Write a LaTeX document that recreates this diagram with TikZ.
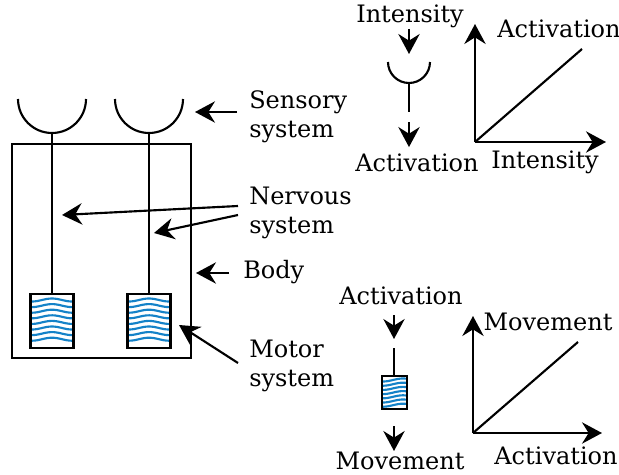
\documentclass[tikz,border=0pt]{standalone}
\usepackage{fontspec}
\setmainfont{DejaVu Serif}
\usetikzlibrary{arrows.meta}
\definecolor{wavecol}{RGB}{20,130,200}
\tikzset{
  arr/.style={-{Stealth[length=15pt,width=16pt,inset=5pt]}, line width=1.6pt},
  part/.style={line width=1.6pt},
  lbl/.style={font=\fontsize{18}{21.5}\selectfont, inner sep=0pt, align=left},
  wave/.style={wavecol, line width=1.6pt},
  mbox/.style={draw, line width=1.6pt, inner sep=0pt}
}
% blue fibres of a muscle: x1, x2, first y, step, count
\newcommand{\fibres}[5]{%
  \foreach \k in {1,...,#5}
    \draw[wave] plot[domain=#1:#2, samples=25, variable=\t]
      (\t,{#3+(\k-1)*#4+1.5*cos(9*(\t-#1))});
}
\begin{document}
\begin{tikzpicture}[x=0.75pt,y=-0.75pt]
	\useasboundingbox (0,0) rectangle (619,475);
	% Body with two sensors and two muscles
	\draw[part] (12,144) rectangle (191,358);
	\draw[part] (18,99) arc[start angle=180, end angle=0, radius=34];
	\draw[part] (115,99) arc[start angle=180, end angle=0, radius=34];
	\coordinate (c1) at (52,133);
	\coordinate (c2) at (149,133);
	\fibres{32}{73}{300}{5.6}{8}
	\fibres{129}{170}{300}{5.6}{8}
	\node[mbox, minimum width=32.25pt, minimum height=40.5pt] (m1) at (52,321) {};
	\node[mbox, minimum width=32.25pt, minimum height=40.5pt] (m2) at (149,321) {};
	\draw[part] (c1) -- (m1.north);
	\draw[part] (c2) -- (m2.north);
	% Labels on the left
	\node[lbl, anchor=west] (sens) at (249,117) {Sensory\\system};
	\node[lbl, anchor=west] (nerv) at (249,213) {Nervous\\system};
	\node[lbl, anchor=west] (body) at (243,272) {Body};
	\node[lbl, anchor=west] (motor) at (249,366) {Motor\\system};
	\coordinate (sensT) at (195,112);
	\coordinate (nervT1) at (62,215);
	\coordinate (nervT2) at (154,233);
	\coordinate (bodyT) at (196,273);
	\coordinate (motorT) at (179,325);
	\draw[arr] ([shift={(-12,-5)}]sens.west) -- (sensT);
	\draw[arr] ([shift={(-11,-7)}]nerv.west) -- (nervT1);
	\draw[arr] ([shift={(-11,2)}]nerv.west) -- (nervT2);
	\draw[arr] ([shift={(-14,1)}]body.west) -- (bodyT);
	\draw[arr] ([shift={(-11,-3)}]motor.west) -- (motorT);
	% Sensor: intensity to activation
	\node[lbl] (int1) at (410,16) {Intensity};
	\coordinate (cupT) at (409,54);
	\draw[arr] (int1.south -| cupT) ++(0,1) -- (cupT);
	\draw[part] (388,62) arc[start angle=180, end angle=0, radius=21];
	\coordinate (cupB) at (409,83);
	\coordinate (cupL) at (409,112);
	\draw[part] (cupB) -- (cupL);
	\node[lbl] (act1) at (417,163) {Activation};
	\draw[arr, shorten >=5pt] (409,122) -- (act1.north -| cupB);
	% Graph: activation over intensity
	\coordinate (o1) at (475,142);
	\coordinate (y1) at (475,24);
	\coordinate (x1) at (606,142);
	\coordinate (d1) at (582,49);
	\draw[arr] (o1) -- (y1);
	\draw[arr] (o1) -- (x1);
	\draw[part] (o1) -- (d1);
	\node[lbl] (act2) at (559,29) {Activation};
	\node[lbl] (int2) at (545,162) {Intensity};
	% Muscle: activation to movement
	\node[lbl] (act3) at (401,296) {Activation};
	\draw[arr] (394,315) -- (394,339);
	\fibres{383}{406}{380}{4.2}{7}
	\node[mbox, minimum width=18.75pt, minimum height=24.75pt] (m3) at (394.5,392.5) {};
	\coordinate (mtop) at (394,348);
	\draw[part] (mtop) -- (mtop |- m3.north);
	\node[lbl] (mov1) at (400,461) {Movement};
	\draw[arr] (394,426) -- (394,451);
	% Graph: movement over activation
	\coordinate (o2) at (473,433);
	\coordinate (y2) at (473,316);
	\coordinate (x2) at (602,433);
	\coordinate (d2) at (578,342);
	\draw[arr] (o2) -- (y2);
	\draw[arr] (o2) -- (x2);
	\draw[part] (o2) -- (d2);
	\node[lbl] (mov2) at (548,322) {Movement};
	\node[lbl] (act4) at (556,456) {Activation};
\end{tikzpicture}
\end{document}
